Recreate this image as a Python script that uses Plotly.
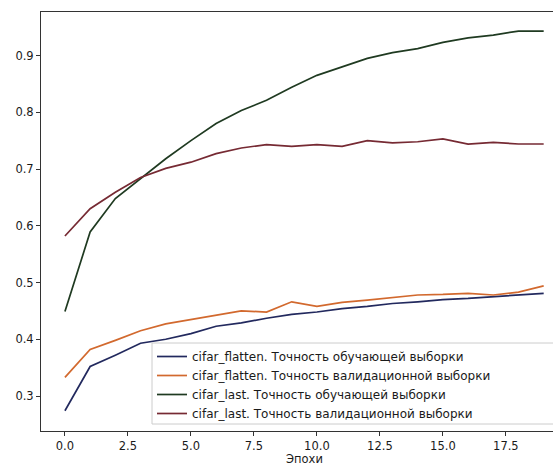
import plotly.graph_objects as go

epochs = list(range(20))

flatten_train = [0.274, 0.352, 0.372, 0.393, 0.400, 0.410, 0.423, 0.429, 0.437, 0.444,
                 0.448, 0.454, 0.458, 0.463, 0.466, 0.470, 0.472, 0.475, 0.479, 0.481]
flatten_val = [0.333, 0.382, 0.398, 0.415, 0.427, 0.435, 0.442, 0.450, 0.448, 0.466,
               0.458, 0.465, 0.469, 0.474, 0.478, 0.479, 0.481, 0.478, 0.483, 0.494]
last_train = [0.449, 0.589, 0.648, 0.683, 0.718, 0.750, 0.780, 0.803, 0.821, 0.844,
              0.865, 0.880, 0.895, 0.905, 0.912, 0.923, 0.931, 0.936, 0.943, 0.943]
last_val = [0.582, 0.630, 0.659, 0.685, 0.701, 0.712, 0.727, 0.737, 0.743, 0.740,
            0.743, 0.740, 0.750, 0.746, 0.748, 0.753, 0.744, 0.747, 0.744, 0.744]

names = [
    "cifar_flatten. Точность обучающей выборки",
    "cifar_flatten. Точность валидационной выборки",
    "cifar_last. Точность обучающей выборки",
    "cifar_last. Точность валидационной выборки",
]
series = [flatten_train, flatten_val, last_train, last_val]
colors = ["#22295e", "#d2692e", "#1f3a21", "#762a33"]

W, H = 553, 467
L, R, T, B = 41, 0, 12, 36
pw, ph = W - L - R, H - T - B

def px_x(p):
    return (p - L) / pw

def px_y(p):
    return (H - B - p) / ph

fig = go.Figure()
for nm, ys, c in zip(names, series, colors):
    fig.add_trace(go.Scatter(x=epochs, y=ys, mode="lines", name=nm,
                             line=dict(color=c, width=1.7)))

font = dict(family="DejaVu Sans", size=11.5, color="#1a1a1a")

fig.update_layout(
    width=W, height=H,
    margin=dict(l=L, r=R, t=T, b=B, pad=0),
    paper_bgcolor="white", plot_bgcolor="white",
    font=font,
    showlegend=True,
    legend=dict(x=px_x(152), y=px_y(342), xanchor="left", yanchor="top",
                bgcolor="rgba(0,0,0,0)", borderwidth=0,
                font=dict(family="DejaVu Sans", size=12, color="#1a1a1a"),
                tracegroupgap=0),
    xaxis=dict(range=[-0.95, 19.37], tick0=0, dtick=2.5, tickformat=".1f",
               showgrid=False, zeroline=False, showline=True, linecolor="#333333",
               linewidth=1, mirror=True, ticks="outside", ticklen=4,
               tickcolor="#333333", tickfont=font),
    yaxis=dict(range=[0.2384, 0.9766], tick0=0.3, dtick=0.1, tickformat=".1f",
               showgrid=False, zeroline=False, showline=True, linecolor="#333333",
               linewidth=1, mirror=False, ticks="outside", ticklen=4,
               tickcolor="#333333", tickfont=font),
    shapes=[dict(type="rect", xref="paper", yref="paper",
                 x0=px_x(152), x1=1.05, y0=px_y(424), y1=px_y(343),
                 fillcolor="rgba(255,255,255,0.8)",
                 line=dict(color="#cccccc", width=1), layer="above")],
    annotations=[dict(text="Эпохи", xref="paper", yref="paper",
                      x=px_x(304.5), y=px_y(459), xanchor="center", yanchor="middle",
                      showarrow=False, font=font)],
)

fig.write_html("out.html", config={"displayModeBar": False},
               post_script="document.body.style.margin='0';document.body.style.overflow='hidden';")
